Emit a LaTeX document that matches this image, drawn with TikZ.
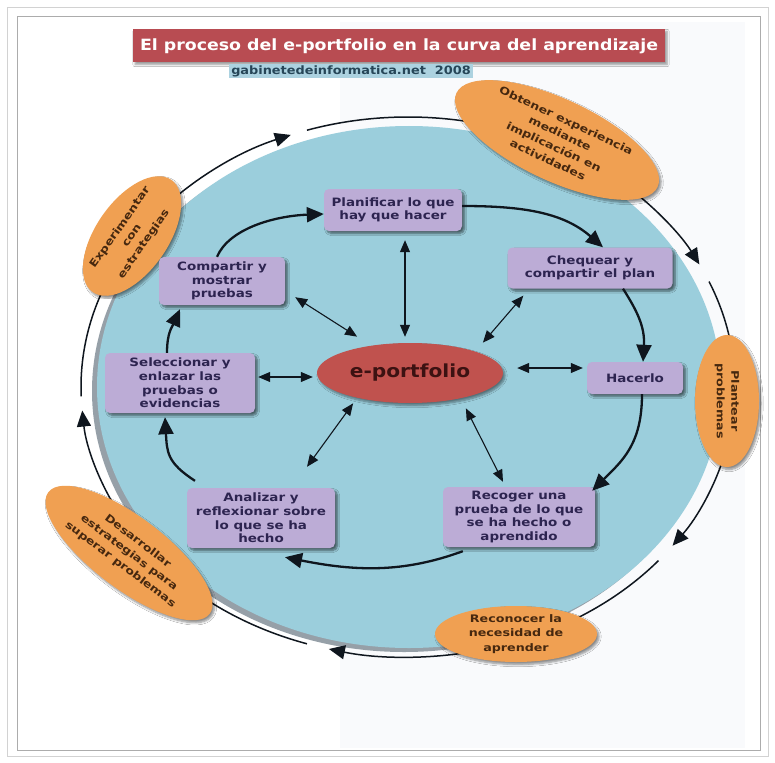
\documentclass[tikz,border=0pt]{standalone}
\usepackage{fontspec}
\setmainfont{DejaVu Sans}
\newfontfamily\dfont[FakeStretch=1.12]{DejaVu Sans}
\newfontfamily\bfont[FakeStretch=1.17]{DejaVu Sans}
\newfontfamily\ofont[FakeStretch=1.22]{DejaVu Sans}
\usetikzlibrary{shapes.geometric,arrows.meta,shadows.blur}
\definecolor{bluefill}{RGB}{155,206,220}
\definecolor{bluerim}{RGB}{150,160,168}
\definecolor{lav}{RGB}{188,172,214}
\definecolor{lavtext}{RGB}{45,36,80}
\definecolor{orng}{RGB}{240,160,82}
\definecolor{orngtext}{RGB}{70,40,15}
\definecolor{epred}{RGB}{192,82,78}
\definecolor{eptext}{RGB}{60,18,18}
\definecolor{titlered}{RGB}{184,76,82}
\definecolor{subbg}{RGB}{172,210,224}
\definecolor{subtext}{RGB}{38,70,88}
\definecolor{arrowc}{RGB}{15,22,30}
\definecolor{panel}{RGB}{249,250,252}
\begin{document}
\begin{tikzpicture}[x=1pt,y=-1pt,
  stepbox/.style={fill=lav, rounded corners=5pt, align=center, text=lavtext,
    font=\bfont\bfseries\fontsize{11.5}{13.6}\selectfont, inner sep=0pt,
    blur shadow={shadow xshift=2.5pt, shadow yshift=-2.5pt, shadow blur steps=6, shadow opacity=55}},
  orbox/.style={ellipse, fill=orng, align=center, text=orngtext, inner sep=0pt,
    font=\ofont\bfseries\fontsize{10.4}{14.5}\selectfont,
    blur shadow={shadow xshift=2pt, shadow yshift=-2.5pt, shadow blur steps=6, shadow opacity=45}},
  cyc/.style={line width=2.3pt, draw=arrowc, -{Triangle[length=17pt,width=15pt]}},
  dbl/.style={line width=1.1pt, draw=arrowc, {Triangle[length=12pt,width=10pt]}-{Triangle[length=12pt,width=10pt]}},
  track/.style={line width=1.5pt, draw=arrowc},
  trackarr/.style={track, -{Triangle[length=16pt,width=14pt]}}
]
\useasboundingbox (0,0) rectangle (775,762);
\fill[white] (0,0) rectangle (775,762);
\fill[panel] (340,22) rectangle (745,748);
\draw[gray!35, line width=0.8pt] (7,7) rectangle (768,756);
\draw[gray!65, line width=0.8pt] (17,16) rectangle (760,750);

% title
\node[fill=titlered, minimum width=532, minimum height=33, text=white,
  font=\dfont\bfseries\fontsize{15.5}{17}\selectfont,
  blur shadow={shadow xshift=2pt, shadow yshift=-2pt, shadow blur steps=5, shadow opacity=40}]
  (title) at (399,46) {El proceso del e-portfolio en la curva del aprendizaje};
\node[fill=subbg, inner xsep=2pt, inner ysep=1.5pt, text=subtext,
  font=\dfont\bfseries\fontsize{11.5}{12}\selectfont] (sub) at (351,71) {gabinetedeinformatica.net\ \ 2008};

% big blue ellipse
\fill[bluerim] (404,391) ellipse [x radius=312, y radius=261];
\fill[bluefill] (409,387) ellipse [x radius=312, y radius=261];

% outer track
\draw[trackarr] ([shift={(408,387)}]-138:327 and 270) arc[start angle=-138, end angle=-111, x radius=327, y radius=270];
\draw[track] ([shift={(408,387)}]-108:327 and 270) arc[start angle=-108, end angle=-78, x radius=327, y radius=270];
\draw[trackarr] ([shift={(408,387)}]-46:327 and 270) arc[start angle=-46, end angle=-27, x radius=327, y radius=270];
\draw[track] ([shift={(408,387)}]-23:327 and 270) arc[start angle=-23, end angle=-8, x radius=327, y radius=270];
\draw[trackarr] ([shift={(408,387)}]14:327 and 270) arc[start angle=14, end angle=36, x radius=327, y radius=270];
\draw[track] ([shift={(408,387)}]40:327 and 270) arc[start angle=40, end angle=62, x radius=327, y radius=270];
\draw[trackarr] ([shift={(408,387)}]78:327 and 270) arc[start angle=78, end angle=104, x radius=327, y radius=270];
\draw[track] ([shift={(408,387)}]108:327 and 270) arc[start angle=108, end angle=128, x radius=327, y radius=270];
\draw[trackarr] ([shift={(408,387)}]152:327 and 270) arc[start angle=152, end angle=175, x radius=327, y radius=270];
\draw[track] ([shift={(408,387)}]178:327 and 270) arc[start angle=178, end angle=212, x radius=327, y radius=270];

% orange ellipses
\node[orbox, rotate=-25, minimum width=222, minimum height=82] (obt) at (557,140)
  {Obtener experiencia\\mediante\\implicación en\\actividades};
\node[orbox, rotate=55, minimum width=132, minimum height=72] (exp) at (132,236)
  {Experimentar\\con\\estrategias};
\node[orbox, rotate=-90, minimum width=132, minimum height=64] (plant) at (727,401)
  {Plantear\\problemas};
\node[orbox, rotate=-37, minimum width=202, minimum height=72] (des) at (129,553)
  {Desarrollar\\estrategias para\\superar problemas};
\node[orbox, minimum width=162, minimum height=56] (recon) at (516,634)
  {Reconocer la\\necesidad de\\aprender};

% boxes
\node[stepbox, minimum width=138, minimum height=42] (plan) at (393,210) {Planificar lo que\\hay que hacer};
\node[stepbox, minimum width=165, minimum height=41] (cheq) at (590,268) {Chequear y\\compartir el plan};
\node[stepbox, minimum width=96, minimum height=32] (hac) at (635,378) {Hacerlo};
\node[stepbox, minimum width=152, minimum height=60] (rec) at (519,517) {Recoger una\\prueba de lo que\\se ha hecho o\\aprendido};
\node[stepbox, minimum width=148, minimum height=60] (ana) at (261,518) {Analizar y\\reflexionar sobre\\lo que se ha\\hecho};
\node[stepbox, minimum width=150, minimum height=60] (sel) at (180,383) {Seleccionar y\\enlazar las\\pruebas o\\evidencias};
\node[stepbox, minimum width=126, minimum height=48] (comp) at (222,281) {Compartir y\\mostrar\\pruebas};

% central
\node[ellipse, fill=epred, minimum width=186, minimum height=60, inner sep=0pt, text=eptext,
  font=\dfont\bfseries\fontsize{18}{20}\selectfont,
  blur shadow={shadow xshift=2pt, shadow yshift=-2.5pt, shadow blur steps=6, shadow opacity=45}]
  (ep) at (410,373) {e-portfolio};

% cycle arrows
\draw[cyc] ([xshift=-5pt]comp.north) .. controls +(12,-28) and +(-50,2) .. ([yshift=-4pt]plan.west);
\draw[cyc] ([yshift=4pt]plan.east) .. controls +(60,0) and +(-40,-35) .. ([xshift=13pt]cheq.north);
\draw[cyc] ([xshift=33pt]cheq.south) .. controls +(14,22) and +(2,-35) .. ([xshift=8pt]hac.north);
\draw[cyc] ([xshift=7pt]hac.south) .. controls +(0,50) and +(30,-30) .. ([xshift=-3pt,yshift=-4pt]rec.north east);
\draw[cyc] ([xshift=20pt,yshift=-4pt]rec.south west) .. controls +(-60,22) and +(70,14) .. ([xshift=24pt,yshift=-9pt]ana.south);
\draw[cyc] ([xshift=-66pt,yshift=7pt]ana.north) .. controls +(-28,-18) and +(2,35) .. ([xshift=-15pt,yshift=-4pt]sel.south);
\draw[cyc] ([xshift=-13pt]sel.north) .. controls +(0,-20) and +(-8,18) .. ([xshift=-42pt,yshift=-4pt]comp.south);

% double arrows
\draw[dbl] ([xshift=12pt,yshift=-9pt]plan.south) -- ([xshift=-5pt,yshift=6pt]ep.north);
\draw[dbl] ([xshift=16pt,yshift=-7pt]cheq.south west) -- ([xshift=7pt,yshift=9pt]ep.north east);
\draw[dbl] ([xshift=14pt,yshift=5pt]ep.east) -- ([xshift=-4pt,yshift=10pt]hac.west);
\draw[dbl] ([xshift=10pt,yshift=8pt]comp.south east) -- ([xshift=13pt,yshift=15pt]ep.north west);
\draw[dbl] ([xshift=3pt,yshift=6pt]sel.east) -- ([xshift=-4pt,yshift=-4pt]ep.west);
\draw[dbl] ([xshift=9pt,yshift=-9pt]ep.south west) -- ([xshift=46pt,yshift=21pt]ana.north);
\draw[dbl] ([xshift=-10pt,yshift=-14pt]ep.south east) -- ([xshift=-16pt,yshift=5pt]rec.north);
\end{tikzpicture}
\end{document}
